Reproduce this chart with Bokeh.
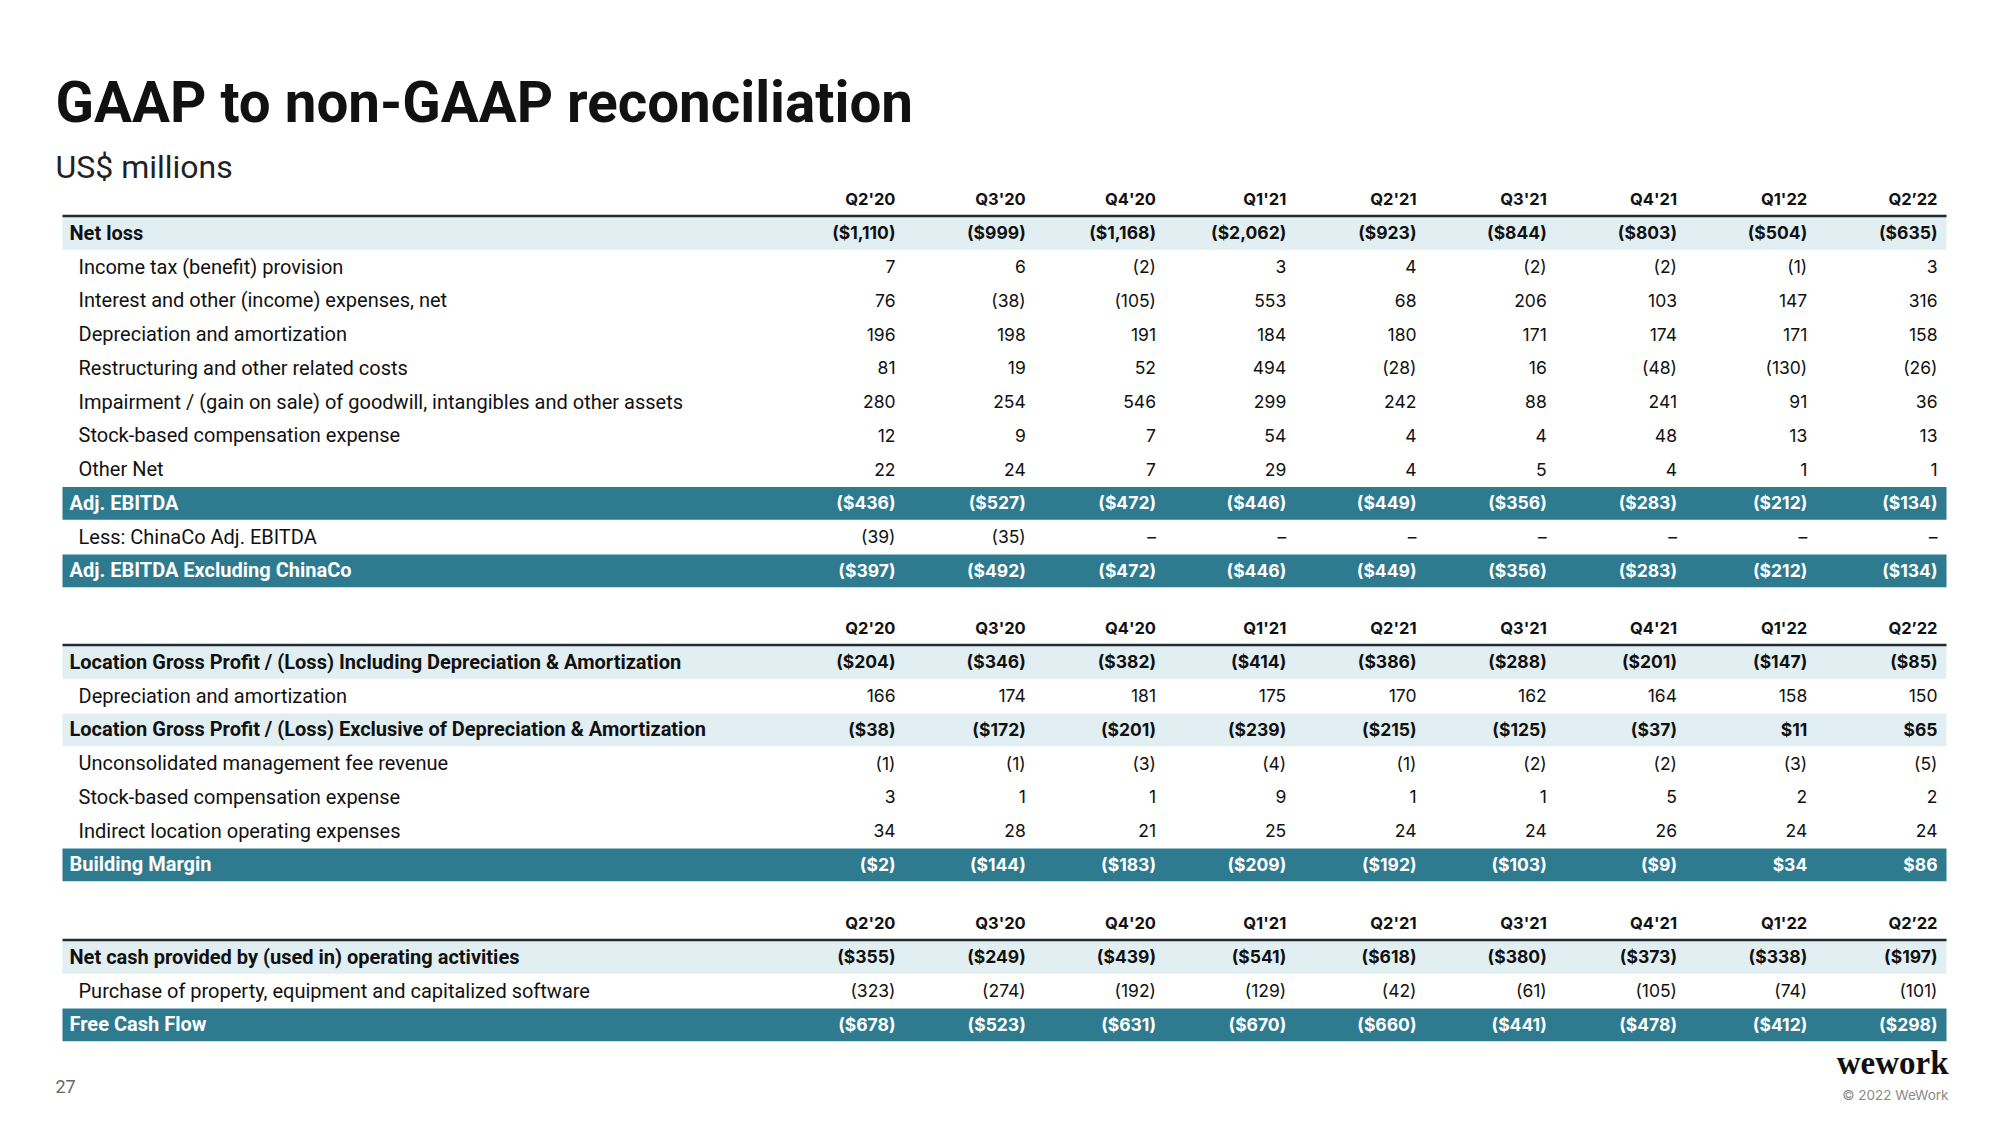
from bokeh.plotting import figure
from bokeh.models import ColumnDataSource, Range1d
from bokeh.embed import file_html
from bokeh.resources import INLINE
from bokeh.core.properties import value

# ---------------- data ----------------
quarters = ["Q2'20", "Q3'20", "Q4'20", "Q1'21", "Q2'21", "Q3'21", "Q4'21", "Q1'22", "Q2\u201922"]

# Section 1: Adj. EBITDA reconciliation
net_loss = [-1110, -999, -1168, -2062, -923, -844, -803, -504, -635]
income_tax = [7, 6, -2, 3, 4, -2, -2, -1, 3]
interest_other = [76, -38, -105, 553, 68, 206, 103, 147, 316]
dep_amort = [196, 198, 191, 184, 180, 171, 174, 171, 158]
restructuring = [81, 19, 52, 494, -28, 16, -48, -130, -26]
impairment = [280, 254, 546, 299, 242, 88, 241, 91, 36]
sbc = [12, 9, 7, 54, 4, 4, 48, 13, 13]
other_net = [22, 24, 7, 29, 4, 5, 4, 1, 1]
adj_ebitda = [-436, -527, -472, -446, -449, -356, -283, -212, -134]
chinaco = [-39, -35, None, None, None, None, None, None, None]
adj_ebitda_ex_china = [-397, -492, -472, -446, -449, -356, -283, -212, -134]

# Section 2: Building margin
loc_gp_incl = [-204, -346, -382, -414, -386, -288, -201, -147, -85]
loc_dep_amort = [166, 174, 181, 175, 170, 162, 164, 158, 150]
loc_gp_excl = [-38, -172, -201, -239, -215, -125, -37, 11, 65]
unconsol_fee = [-1, -1, -3, -4, -1, -2, -2, -3, -5]
loc_sbc = [3, 1, 1, 9, 1, 1, 5, 2, 2]
indirect_opex = [34, 28, 21, 25, 24, 24, 26, 24, 24]
building_margin = [-2, -144, -183, -209, -192, -103, -9, 34, 86]

# Section 3: Free cash flow
op_cash = [-355, -249, -439, -541, -618, -380, -373, -338, -197]
capex = [-323, -274, -192, -129, -42, -61, -105, -74, -101]
free_cash_flow = [-678, -523, -631, -670, -660, -441, -478, -412, -298]

sections = [
    [("Net loss", net_loss, "light"),
     ("Income tax (benefit) provision", income_tax, "plain"),
     ("Interest and other (income) expenses, net", interest_other, "plain"),
     ("Depreciation and amortization", dep_amort, "plain"),
     ("Restructuring and other related costs", restructuring, "plain"),
     ("Impairment / (gain on sale) of goodwill, intangibles and other assets", impairment, "plain"),
     ("Stock-based compensation expense", sbc, "plain"),
     ("Other Net", other_net, "plain"),
     ("Adj. EBITDA", adj_ebitda, "dark"),
     ("Less: ChinaCo Adj. EBITDA", chinaco, "plain"),
     ("Adj. EBITDA Excluding ChinaCo", adj_ebitda_ex_china, "dark")],
    [("Location Gross Profit / (Loss) Including Depreciation & Amortization", loc_gp_incl, "light"),
     ("Depreciation and amortization", loc_dep_amort, "plain"),
     ("Location Gross Profit / (Loss) Exclusive of Depreciation & Amortization", loc_gp_excl, "light"),
     ("Unconsolidated management fee revenue", unconsol_fee, "plain"),
     ("Stock-based compensation expense", loc_sbc, "plain"),
     ("Indirect location operating expenses", indirect_opex, "plain"),
     ("Building Margin", building_margin, "dark")],
    [("Net cash provided by (used in) operating activities", op_cash, "light"),
     ("Purchase of property, equipment and capitalized software", capex, "plain"),
     ("Free Cash Flow", free_cash_flow, "dark")],
]

# ---------------- layout ----------------
W, H = 1984, 1109
TABLE_L, TABLE_R = 62, 1946
COL_X0, COL_DX = 895, 130.25
ROW_H = 33.75
SECTION_TOPS = [215.5, 644.5, 939.5]
LIGHT, DARK = "#E1EFF3", "#2E7A8F"
INK = "#111111"
LABEL_FONT = "Roboto"
NUM_FONT = "Inter"


def fmt(v, dollar):
    if v is None:
        return "\u2013"
    s = f"{abs(v):,}"
    if dollar:
        s = "$" + s
    return f"({s})" if v < 0 else s


p = figure(width=W, height=H, x_range=Range1d(0, W), y_range=Range1d(H, 0),
           x_axis_type=None, y_axis_type=None, output_backend="svg",
           toolbar_location=None, min_border=0)
p.grid.visible = False
p.outline_line_color = None
p.background_fill_color = "white"
p.border_fill_color = "white"

bands = dict(left=[], right=[], top=[], bottom=[], color=[])
lines = dict(x0=[], x1=[], y0=[], y1=[])
txt = dict(x=[], y=[], text=[], color=[], font=[], style=[], size=[], align=[])


def add_text(x, y, t, color, font, style, size, align):
    txt["x"].append(x); txt["y"].append(y); txt["text"].append(t)
    txt["color"].append(color); txt["font"].append(font); txt["style"].append(style)
    txt["size"].append(size); txt["align"].append(align)


for top, rows in zip(SECTION_TOPS, sections):
    lines["x0"].append(TABLE_L); lines["x1"].append(TABLE_R)
    lines["y0"].append(top); lines["y1"].append(top)
    for j, q in enumerate(quarters):
        add_text(COL_X0 + j * COL_DX, top - 17, q, INK, NUM_FONT, "bold", "16.5px", "right")
    for i, (label, vals, kind) in enumerate(rows):
        rt = top + i * ROW_H
        yc = rt + ROW_H / 2
        if kind != "plain":
            bands["left"].append(TABLE_L); bands["right"].append(TABLE_R)
            bands["top"].append(rt + 1); bands["bottom"].append(rt + ROW_H)
            bands["color"].append(LIGHT if kind == "light" else DARK)
        color = "white" if kind == "dark" else INK
        bold = kind != "plain"
        add_text(69 if bold else 78, yc, label, color, LABEL_FONT,
                 "bold" if bold else "normal", "20px", "left")
        for j, v in enumerate(vals):
            add_text(COL_X0 + j * COL_DX, yc, fmt(v, bold), color, NUM_FONT,
                     "bold" if bold else "normal", "17.5px", "right")

p.quad(left="left", right="right", top="top", bottom="bottom", fill_color="color",
       line_color=None, source=ColumnDataSource(bands))
p.segment(x0="x0", y0="y0", x1="x1", y1="y1", line_color="#222B30", line_width=2.5,
          source=ColumnDataSource(lines))
p.text(x="x", y="y", text="text", text_color="color", text_font="font",
       text_font_style="style", text_font_size="size", text_align="align",
       text_baseline="middle", source=ColumnDataSource(txt))

# titles and footer
p.text(x=[55], y=[102], text=["GAAP to non-GAAP reconciliation"], text_font=value(LABEL_FONT),
       text_font_style="bold", text_font_size="56.5px", text_color=INK, text_baseline="middle")
p.text(x=[55], y=[166], text=["US$ millions"], text_font=value(LABEL_FONT),
       text_font_size="32px", text_color="#222222", text_baseline="middle")
p.text(x=[55], y=[1086], text=["27"], text_font=value(LABEL_FONT),
       text_font_size="18px", text_color="#666666", text_baseline="middle")
p.text(x=[1948], y=[1062], text=["wework"], text_font=value("Liberation Serif"),
       text_font_style="bold", text_font_size="33px", text_color="#111111",
       text_align="right", text_baseline="middle")
p.text(x=[1948], y=[1094], text=["\u00a9 2022 WeWork"], text_font=value(NUM_FONT),
       text_font_size="13.5px", text_color="#8a8a8a", text_align="right", text_baseline="middle")

open("out.html", "w").write(file_html(p, INLINE))
